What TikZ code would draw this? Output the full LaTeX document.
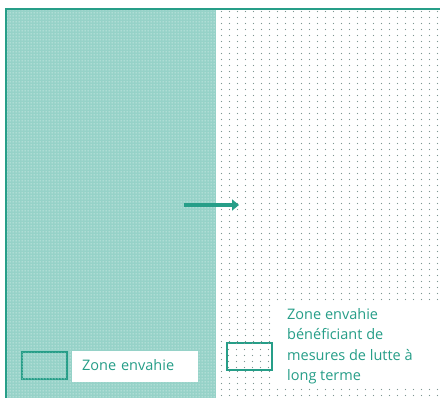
\documentclass[tikz,border=0pt]{standalone}
\usepackage{fontspec}
\setmainfont{Open Sans}
\usetikzlibrary{patterns.meta,arrows.meta,positioning}
\definecolor{zoneteal}{RGB}{38,158,136}
\definecolor{zonemint}{RGB}{150,210,200}
\definecolor{dotgrey}{RGB}{125,150,145}
\tikzdeclarepattern{name=densedots, type=uncolored,
  bounding box={(0pt,0pt) and (3pt,3pt)}, tile size={(3pt,3pt)},
  code={\fill (1.5pt,1.5pt) circle (0.7pt);}}
\tikzdeclarepattern{name=sparsedots, type=uncolored,
  bounding box={(0pt,0pt) and (7.5pt,5.5pt)}, tile size={(7.5pt,5.5pt)},
  code={\fill (3.7pt,2.7pt) circle (0.6pt);}}
\tikzset{ invaded/.style = { fill = zonemint % zone envahie
        , postaction = {pattern = densedots, pattern color = white!70!zonemint}
        }
        , treated/.style = { fill = white % lutte a long terme
        , postaction = {pattern = sparsedots, pattern color = dotgrey}
        }
        , keybox/.style = { rectangle % legend square
        , draw = zoneteal
        , line width = 2pt
        , minimum width = 45pt
        , minimum height = 27pt
        , inner sep = 0pt
        }
        , keytext/.style = { rectangle % legend text
        , fill = white
        , text = zoneteal
        , font = \fontsize{14.5}{20.5}\selectfont
        , align = left
        , inner sep = 0pt
        }
        }

\begin{document}
\begin{tikzpicture}[x=1pt, y=-1pt,
        border_style/.style={draw=zoneteal, line width=2pt},
        arrow_style/.style={draw=zoneteal, line width=4pt, -{Triangle[length=7pt,width=11pt]}}]
        \useasboundingbox (0,0) rectangle (440,398);

        % the two zones
        \path [invaded] (6,9) rectangle (216,398);
        \path [treated] (216,9) rectangle (440,398);
        \draw [border_style] (6,398) -- (6,9) -- (440,9);

        % spread of the invasion
        \coordinate (from) at (184,205);
        \coordinate (to) at (239,205);
        \draw [arrow_style] (from) -- (to);

        % legend
        \node [keybox, invaded] (key1) at (44,366) {};
        \node [keytext, anchor=north west, minimum width=124pt, minimum height=31pt,
               text width=106pt, inner xsep=10pt, text depth=3pt] (lab1) at (72,351) {Zone envahie};
        \node [keybox, treated] (key2) at (249,357) {};
        \node [keytext, anchor=north west, minimum width=167pt, minimum height=84pt,
               text width=150pt, inner xsep=0pt] (box2) at (273,303) {};
        \node [keytext, anchor=north west] (lab2) at (287,308) {Zone envahie\\bénéficiant de\\mesures de lutte à\\long terme};
\end{tikzpicture}
\end{document}
